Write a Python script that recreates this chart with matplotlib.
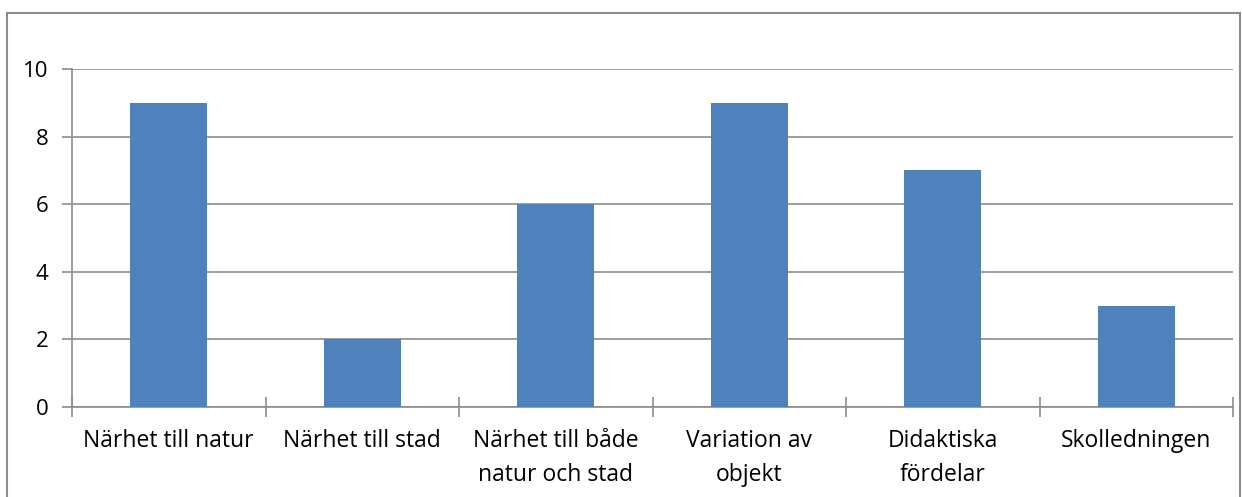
import matplotlib.pyplot as plt
from matplotlib.patches import Rectangle

# Antal svar per kategori
categories = ['Närhet till natur', 'Närhet till stad', 'Närhet till både\nnatur och stad',
              'Variation av\nobjekt', 'Didaktiska\nfördelar', 'Skolledningen']
counts = [9, 2, 6, 9, 7, 3]

plt.rcParams['font.family'] = ['Open Sans', 'DejaVu Sans']

fig = plt.figure(figsize=(12.42, 4.97), dpi=100)
ax = fig.add_axes([72 / 1242, 1 - 407 / 497, (1233 - 72) / 1242, (407 - 69) / 497])

# gray outer chart border
fig.patches.append(Rectangle((7 / 1242, -0.01), (1240 - 7) / 1242, 1 - 13 / 497 + 0.01,
                             transform=fig.transFigure, fill=False,
                             edgecolor='#8c8c8c', linewidth=1.5))

x = range(len(categories))
ax.bar(x, counts, width=0.4, color='#4f81bd', zorder=3)

ax.set_xlim(-0.5, len(categories) - 0.5)
ax.set_ylim(0, 10)
ax.set_yticks(range(0, 11, 2))
ax.yaxis.grid(True, color='#8c8c8c', linewidth=1.2)
ax.set_axisbelow(True)

# category labels centred, tick marks on the boundaries
ax.set_xticks(list(x))
ax.set_xticklabels(categories, fontsize=16.5, linespacing=1.55, va='top')
ax.tick_params(axis='x', length=0, pad=16)
ax.set_xticks([i - 0.5 for i in range(len(categories) + 1)], minor=True)
ax.tick_params(axis='x', which='minor', length=14, width=1.2, color='#8c8c8c', direction='inout')
ax.tick_params(axis='y', length=7, width=1.2, color='#8c8c8c', labelsize=16, pad=10)

for side in ['top', 'right']:
    ax.spines[side].set_visible(False)
for side in ['left', 'bottom']:
    ax.spines[side].set_color('#8c8c8c')
    ax.spines[side].set_linewidth(1.2)

fig.savefig('out.png', dpi=100)
